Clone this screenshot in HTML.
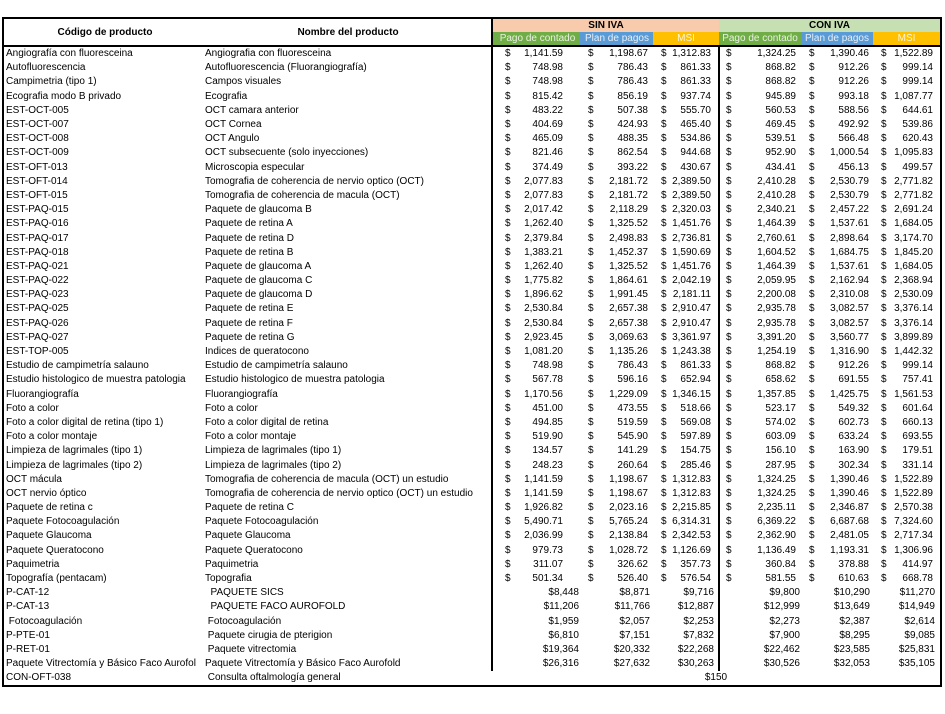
<!DOCTYPE html>
<html><head><meta charset="utf-8"><style>
body{margin:0;background:#fff;width:945px;height:714px;overflow:hidden;font-family:"Liberation Sans",sans-serif;color:#000}
table{position:absolute;left:2px;top:17px;border-collapse:collapse;table-layout:fixed;font-size:10px;border:2px solid #000}
td{padding:0;height:14.2px;line-height:12px;white-space:nowrap;overflow:hidden;vertical-align:middle}
td:nth-child(1){padding-left:2px}
td:nth-child(2){padding-left:1px}
tr.m td:nth-child(3),tr.w td:nth-child(3){border-left:2px solid #000}
tr.m td:nth-child(6),tr.w td:nth-child(6){border-left:2px solid #000}
tr.h td{height:13px;line-height:11px;text-align:center}
tr.h2 td{border-bottom:2px solid #000}
td.t{font-weight:bold;text-align:center}
.m td:nth-child(n+3){text-align:right}
.m td:nth-child(n+3) b{float:left;font-weight:normal}
.m td:nth-child(3){padding:0 17px 0 12px}
.m td:nth-child(4){padding:0 5px 0 8px}
.m td:nth-child(5){padding:0 7px 0 8px}
.m td:nth-child(6){padding:0 5px 0 6px}
.m td:nth-child(7){padding:0 4px 0 8px}
.m td:nth-child(8){padding:0 7px 0 8px}
.w td:nth-child(n+3){text-align:right}
.w td:nth-child(3){padding-right:1px}
.w td:nth-child(4){padding-right:3px}
.w td:nth-child(5){padding-right:4px}
.w td:nth-child(6){padding-right:1px}
.w td:nth-child(7){padding-right:3px}
.w td:nth-child(8){padding-right:5px}
.g{background:#70AD47;color:#e8f2e0}.b{background:#5B9BD5;color:#e6eff9}.o{background:#FFC000;color:#fff6d8}
</style></head><body>
<table>
<colgroup><col style="width:201px"><col style="width:288px"><col style="width:88px"><col style="width:73px"><col style="width:66px"><col style="width:82px"><col style="width:72px"><col style="width:68px"></colgroup>
<tr class="h"><td rowspan="2" class="t" style="border-bottom:2px solid #000">Código de producto</td><td rowspan="2" class="t" style="border-bottom:2px solid #000">Nombre del producto</td><td colspan="3" style="background:#F8CBAD;font-weight:bold;border-left:2px solid #000">SIN IVA</td><td colspan="3" style="background:#C6E0B4;font-weight:bold">CON IVA</td></tr>
<tr class="h h2"><td class="g" style="border-left:2px solid #000">Pago de contado</td><td class="b">Plan de pagos</td><td class="o">MSI</td><td class="g">Pago de contado</td><td class="b">Plan de pagos</td><td class="o">MSI</td></tr>
<tr class="m"><td>Angiografía con fluoresceina</td><td>Angiografia con fluoresceina</td><td><b>$</b>1,141.59</td><td><b>$</b>1,198.67</td><td><b>$</b>1,312.83</td><td><b>$</b>1,324.25</td><td><b>$</b>1,390.46</td><td><b>$</b>1,522.89</td></tr>
<tr class="m"><td>Autofluorescencia</td><td>Autofluorescencia (Fluorangiografía)</td><td><b>$</b>748.98</td><td><b>$</b>786.43</td><td><b>$</b>861.33</td><td><b>$</b>868.82</td><td><b>$</b>912.26</td><td><b>$</b>999.14</td></tr>
<tr class="m"><td>Campimetria (tipo 1)</td><td>Campos visuales</td><td><b>$</b>748.98</td><td><b>$</b>786.43</td><td><b>$</b>861.33</td><td><b>$</b>868.82</td><td><b>$</b>912.26</td><td><b>$</b>999.14</td></tr>
<tr class="m"><td>Ecografia modo B privado</td><td>Ecografia</td><td><b>$</b>815.42</td><td><b>$</b>856.19</td><td><b>$</b>937.74</td><td><b>$</b>945.89</td><td><b>$</b>993.18</td><td><b>$</b>1,087.77</td></tr>
<tr class="m"><td>EST-OCT-005</td><td>OCT camara anterior</td><td><b>$</b>483.22</td><td><b>$</b>507.38</td><td><b>$</b>555.70</td><td><b>$</b>560.53</td><td><b>$</b>588.56</td><td><b>$</b>644.61</td></tr>
<tr class="m"><td>EST-OCT-007</td><td>OCT Cornea</td><td><b>$</b>404.69</td><td><b>$</b>424.93</td><td><b>$</b>465.40</td><td><b>$</b>469.45</td><td><b>$</b>492.92</td><td><b>$</b>539.86</td></tr>
<tr class="m"><td>EST-OCT-008</td><td>OCT Angulo</td><td><b>$</b>465.09</td><td><b>$</b>488.35</td><td><b>$</b>534.86</td><td><b>$</b>539.51</td><td><b>$</b>566.48</td><td><b>$</b>620.43</td></tr>
<tr class="m"><td>EST-OCT-009</td><td>OCT subsecuente (solo inyecciones)</td><td><b>$</b>821.46</td><td><b>$</b>862.54</td><td><b>$</b>944.68</td><td><b>$</b>952.90</td><td><b>$</b>1,000.54</td><td><b>$</b>1,095.83</td></tr>
<tr class="m"><td>EST-OFT-013</td><td>Microscopia especular</td><td><b>$</b>374.49</td><td><b>$</b>393.22</td><td><b>$</b>430.67</td><td><b>$</b>434.41</td><td><b>$</b>456.13</td><td><b>$</b>499.57</td></tr>
<tr class="m"><td>EST-OFT-014</td><td>Tomografia de coherencia de nervio optico (OCT)</td><td><b>$</b>2,077.83</td><td><b>$</b>2,181.72</td><td><b>$</b>2,389.50</td><td><b>$</b>2,410.28</td><td><b>$</b>2,530.79</td><td><b>$</b>2,771.82</td></tr>
<tr class="m"><td>EST-OFT-015</td><td>Tomografia de coherencia de macula (OCT)</td><td><b>$</b>2,077.83</td><td><b>$</b>2,181.72</td><td><b>$</b>2,389.50</td><td><b>$</b>2,410.28</td><td><b>$</b>2,530.79</td><td><b>$</b>2,771.82</td></tr>
<tr class="m"><td>EST-PAQ-015</td><td>Paquete de glaucoma B</td><td><b>$</b>2,017.42</td><td><b>$</b>2,118.29</td><td><b>$</b>2,320.03</td><td><b>$</b>2,340.21</td><td><b>$</b>2,457.22</td><td><b>$</b>2,691.24</td></tr>
<tr class="m"><td>EST-PAQ-016</td><td>Paquete de retina A</td><td><b>$</b>1,262.40</td><td><b>$</b>1,325.52</td><td><b>$</b>1,451.76</td><td><b>$</b>1,464.39</td><td><b>$</b>1,537.61</td><td><b>$</b>1,684.05</td></tr>
<tr class="m"><td>EST-PAQ-017</td><td>Paquete de retina D</td><td><b>$</b>2,379.84</td><td><b>$</b>2,498.83</td><td><b>$</b>2,736.81</td><td><b>$</b>2,760.61</td><td><b>$</b>2,898.64</td><td><b>$</b>3,174.70</td></tr>
<tr class="m"><td>EST-PAQ-018</td><td>Paquete de retina B</td><td><b>$</b>1,383.21</td><td><b>$</b>1,452.37</td><td><b>$</b>1,590.69</td><td><b>$</b>1,604.52</td><td><b>$</b>1,684.75</td><td><b>$</b>1,845.20</td></tr>
<tr class="m"><td>EST-PAQ-021</td><td>Paquete de glaucoma A</td><td><b>$</b>1,262.40</td><td><b>$</b>1,325.52</td><td><b>$</b>1,451.76</td><td><b>$</b>1,464.39</td><td><b>$</b>1,537.61</td><td><b>$</b>1,684.05</td></tr>
<tr class="m"><td>EST-PAQ-022</td><td>Paquete de glaucoma C</td><td><b>$</b>1,775.82</td><td><b>$</b>1,864.61</td><td><b>$</b>2,042.19</td><td><b>$</b>2,059.95</td><td><b>$</b>2,162.94</td><td><b>$</b>2,368.94</td></tr>
<tr class="m"><td>EST-PAQ-023</td><td>Paquete de glaucoma D</td><td><b>$</b>1,896.62</td><td><b>$</b>1,991.45</td><td><b>$</b>2,181.11</td><td><b>$</b>2,200.08</td><td><b>$</b>2,310.08</td><td><b>$</b>2,530.09</td></tr>
<tr class="m"><td>EST-PAQ-025</td><td>Paquete de retina E</td><td><b>$</b>2,530.84</td><td><b>$</b>2,657.38</td><td><b>$</b>2,910.47</td><td><b>$</b>2,935.78</td><td><b>$</b>3,082.57</td><td><b>$</b>3,376.14</td></tr>
<tr class="m"><td>EST-PAQ-026</td><td>Paquete de retina F</td><td><b>$</b>2,530.84</td><td><b>$</b>2,657.38</td><td><b>$</b>2,910.47</td><td><b>$</b>2,935.78</td><td><b>$</b>3,082.57</td><td><b>$</b>3,376.14</td></tr>
<tr class="m"><td>EST-PAQ-027</td><td>Paquete de retina G</td><td><b>$</b>2,923.45</td><td><b>$</b>3,069.63</td><td><b>$</b>3,361.97</td><td><b>$</b>3,391.20</td><td><b>$</b>3,560.77</td><td><b>$</b>3,899.89</td></tr>
<tr class="m"><td>EST-TOP-005</td><td>Indices de queratocono</td><td><b>$</b>1,081.20</td><td><b>$</b>1,135.26</td><td><b>$</b>1,243.38</td><td><b>$</b>1,254.19</td><td><b>$</b>1,316.90</td><td><b>$</b>1,442.32</td></tr>
<tr class="m"><td>Estudio de campimetría salauno</td><td>Estudio de campimetría salauno</td><td><b>$</b>748.98</td><td><b>$</b>786.43</td><td><b>$</b>861.33</td><td><b>$</b>868.82</td><td><b>$</b>912.26</td><td><b>$</b>999.14</td></tr>
<tr class="m"><td>Estudio histologico de muestra patologia</td><td>Estudio histologico de muestra patologia</td><td><b>$</b>567.78</td><td><b>$</b>596.16</td><td><b>$</b>652.94</td><td><b>$</b>658.62</td><td><b>$</b>691.55</td><td><b>$</b>757.41</td></tr>
<tr class="m"><td>Fluorangiografía</td><td>Fluorangiografía</td><td><b>$</b>1,170.56</td><td><b>$</b>1,229.09</td><td><b>$</b>1,346.15</td><td><b>$</b>1,357.85</td><td><b>$</b>1,425.75</td><td><b>$</b>1,561.53</td></tr>
<tr class="m"><td>Foto a color</td><td>Foto a color</td><td><b>$</b>451.00</td><td><b>$</b>473.55</td><td><b>$</b>518.66</td><td><b>$</b>523.17</td><td><b>$</b>549.32</td><td><b>$</b>601.64</td></tr>
<tr class="m"><td>Foto a color digital de retina (tipo 1)</td><td>Foto a color digital de retina</td><td><b>$</b>494.85</td><td><b>$</b>519.59</td><td><b>$</b>569.08</td><td><b>$</b>574.02</td><td><b>$</b>602.73</td><td><b>$</b>660.13</td></tr>
<tr class="m"><td>Foto a color montaje</td><td>Foto a color montaje</td><td><b>$</b>519.90</td><td><b>$</b>545.90</td><td><b>$</b>597.89</td><td><b>$</b>603.09</td><td><b>$</b>633.24</td><td><b>$</b>693.55</td></tr>
<tr class="m"><td>Limpieza de lagrimales (tipo 1)</td><td>Limpieza de lagrimales (tipo 1)</td><td><b>$</b>134.57</td><td><b>$</b>141.29</td><td><b>$</b>154.75</td><td><b>$</b>156.10</td><td><b>$</b>163.90</td><td><b>$</b>179.51</td></tr>
<tr class="m"><td>Limpieza de lagrimales (tipo 2)</td><td>Limpieza de lagrimales (tipo 2)</td><td><b>$</b>248.23</td><td><b>$</b>260.64</td><td><b>$</b>285.46</td><td><b>$</b>287.95</td><td><b>$</b>302.34</td><td><b>$</b>331.14</td></tr>
<tr class="m"><td>OCT mácula</td><td>Tomografia de coherencia de macula (OCT) un estudio</td><td><b>$</b>1,141.59</td><td><b>$</b>1,198.67</td><td><b>$</b>1,312.83</td><td><b>$</b>1,324.25</td><td><b>$</b>1,390.46</td><td><b>$</b>1,522.89</td></tr>
<tr class="m"><td>OCT nervio óptico</td><td>Tomografia de coherencia de nervio optico (OCT) un estudio</td><td><b>$</b>1,141.59</td><td><b>$</b>1,198.67</td><td><b>$</b>1,312.83</td><td><b>$</b>1,324.25</td><td><b>$</b>1,390.46</td><td><b>$</b>1,522.89</td></tr>
<tr class="m"><td>Paquete de retina c</td><td>Paquete de retina C</td><td><b>$</b>1,926.82</td><td><b>$</b>2,023.16</td><td><b>$</b>2,215.85</td><td><b>$</b>2,235.11</td><td><b>$</b>2,346.87</td><td><b>$</b>2,570.38</td></tr>
<tr class="m"><td>Paquete Fotocoagulación</td><td>Paquete Fotocoagulación</td><td><b>$</b>5,490.71</td><td><b>$</b>5,765.24</td><td><b>$</b>6,314.31</td><td><b>$</b>6,369.22</td><td><b>$</b>6,687.68</td><td><b>$</b>7,324.60</td></tr>
<tr class="m"><td>Paquete Glaucoma</td><td>Paquete Glaucoma</td><td><b>$</b>2,036.99</td><td><b>$</b>2,138.84</td><td><b>$</b>2,342.53</td><td><b>$</b>2,362.90</td><td><b>$</b>2,481.05</td><td><b>$</b>2,717.34</td></tr>
<tr class="m"><td>Paquete Queratocono</td><td>Paquete Queratocono</td><td><b>$</b>979.73</td><td><b>$</b>1,028.72</td><td><b>$</b>1,126.69</td><td><b>$</b>1,136.49</td><td><b>$</b>1,193.31</td><td><b>$</b>1,306.96</td></tr>
<tr class="m"><td>Paquimetria</td><td>Paquimetria</td><td><b>$</b>311.07</td><td><b>$</b>326.62</td><td><b>$</b>357.73</td><td><b>$</b>360.84</td><td><b>$</b>378.88</td><td><b>$</b>414.97</td></tr>
<tr class="m"><td>Topografía (pentacam)</td><td>Topografia</td><td><b>$</b>501.34</td><td><b>$</b>526.40</td><td><b>$</b>576.54</td><td><b>$</b>581.55</td><td><b>$</b>610.63</td><td><b>$</b>668.78</td></tr>
<tr class="w"><td>P-CAT-12</td><td>&nbsp;&nbsp;PAQUETE SICS</td><td>$8,448</td><td>$8,871</td><td>$9,716</td><td>$9,800</td><td>$10,290</td><td>$11,270</td></tr>
<tr class="w"><td>P-CAT-13</td><td>&nbsp;&nbsp;PAQUETE FACO AUROFOLD</td><td>$11,206</td><td>$11,766</td><td>$12,887</td><td>$12,999</td><td>$13,649</td><td>$14,949</td></tr>
<tr class="w"><td>&nbsp;Fotocoagulación</td><td>&nbsp;Fotocoagulación</td><td>$1,959</td><td>$2,057</td><td>$2,253</td><td>$2,273</td><td>$2,387</td><td>$2,614</td></tr>
<tr class="w"><td>P-PTE-01</td><td>&nbsp;Paquete cirugia de pterigion</td><td>$6,810</td><td>$7,151</td><td>$7,832</td><td>$7,900</td><td>$8,295</td><td>$9,085</td></tr>
<tr class="w"><td>P-RET-01</td><td>&nbsp;Paquete vitrectomia</td><td>$19,364</td><td>$20,332</td><td>$22,268</td><td>$22,462</td><td>$23,585</td><td>$25,831</td></tr>
<tr class="w"><td style="overflow:visible">Paquete Vitrectomía y Básico Faco Aurofol</td><td>Paquete Vitrectomía y Básico Faco Aurofold</td><td>$26,316</td><td>$27,632</td><td>$30,263</td><td>$30,526</td><td>$32,053</td><td>$35,105</td></tr>
<tr><td>CON-OFT-038</td><td>&nbsp;Consulta oftalmología general</td><td colspan="6" style="text-align:center">$150</td></tr>
</table>
</body></html>
